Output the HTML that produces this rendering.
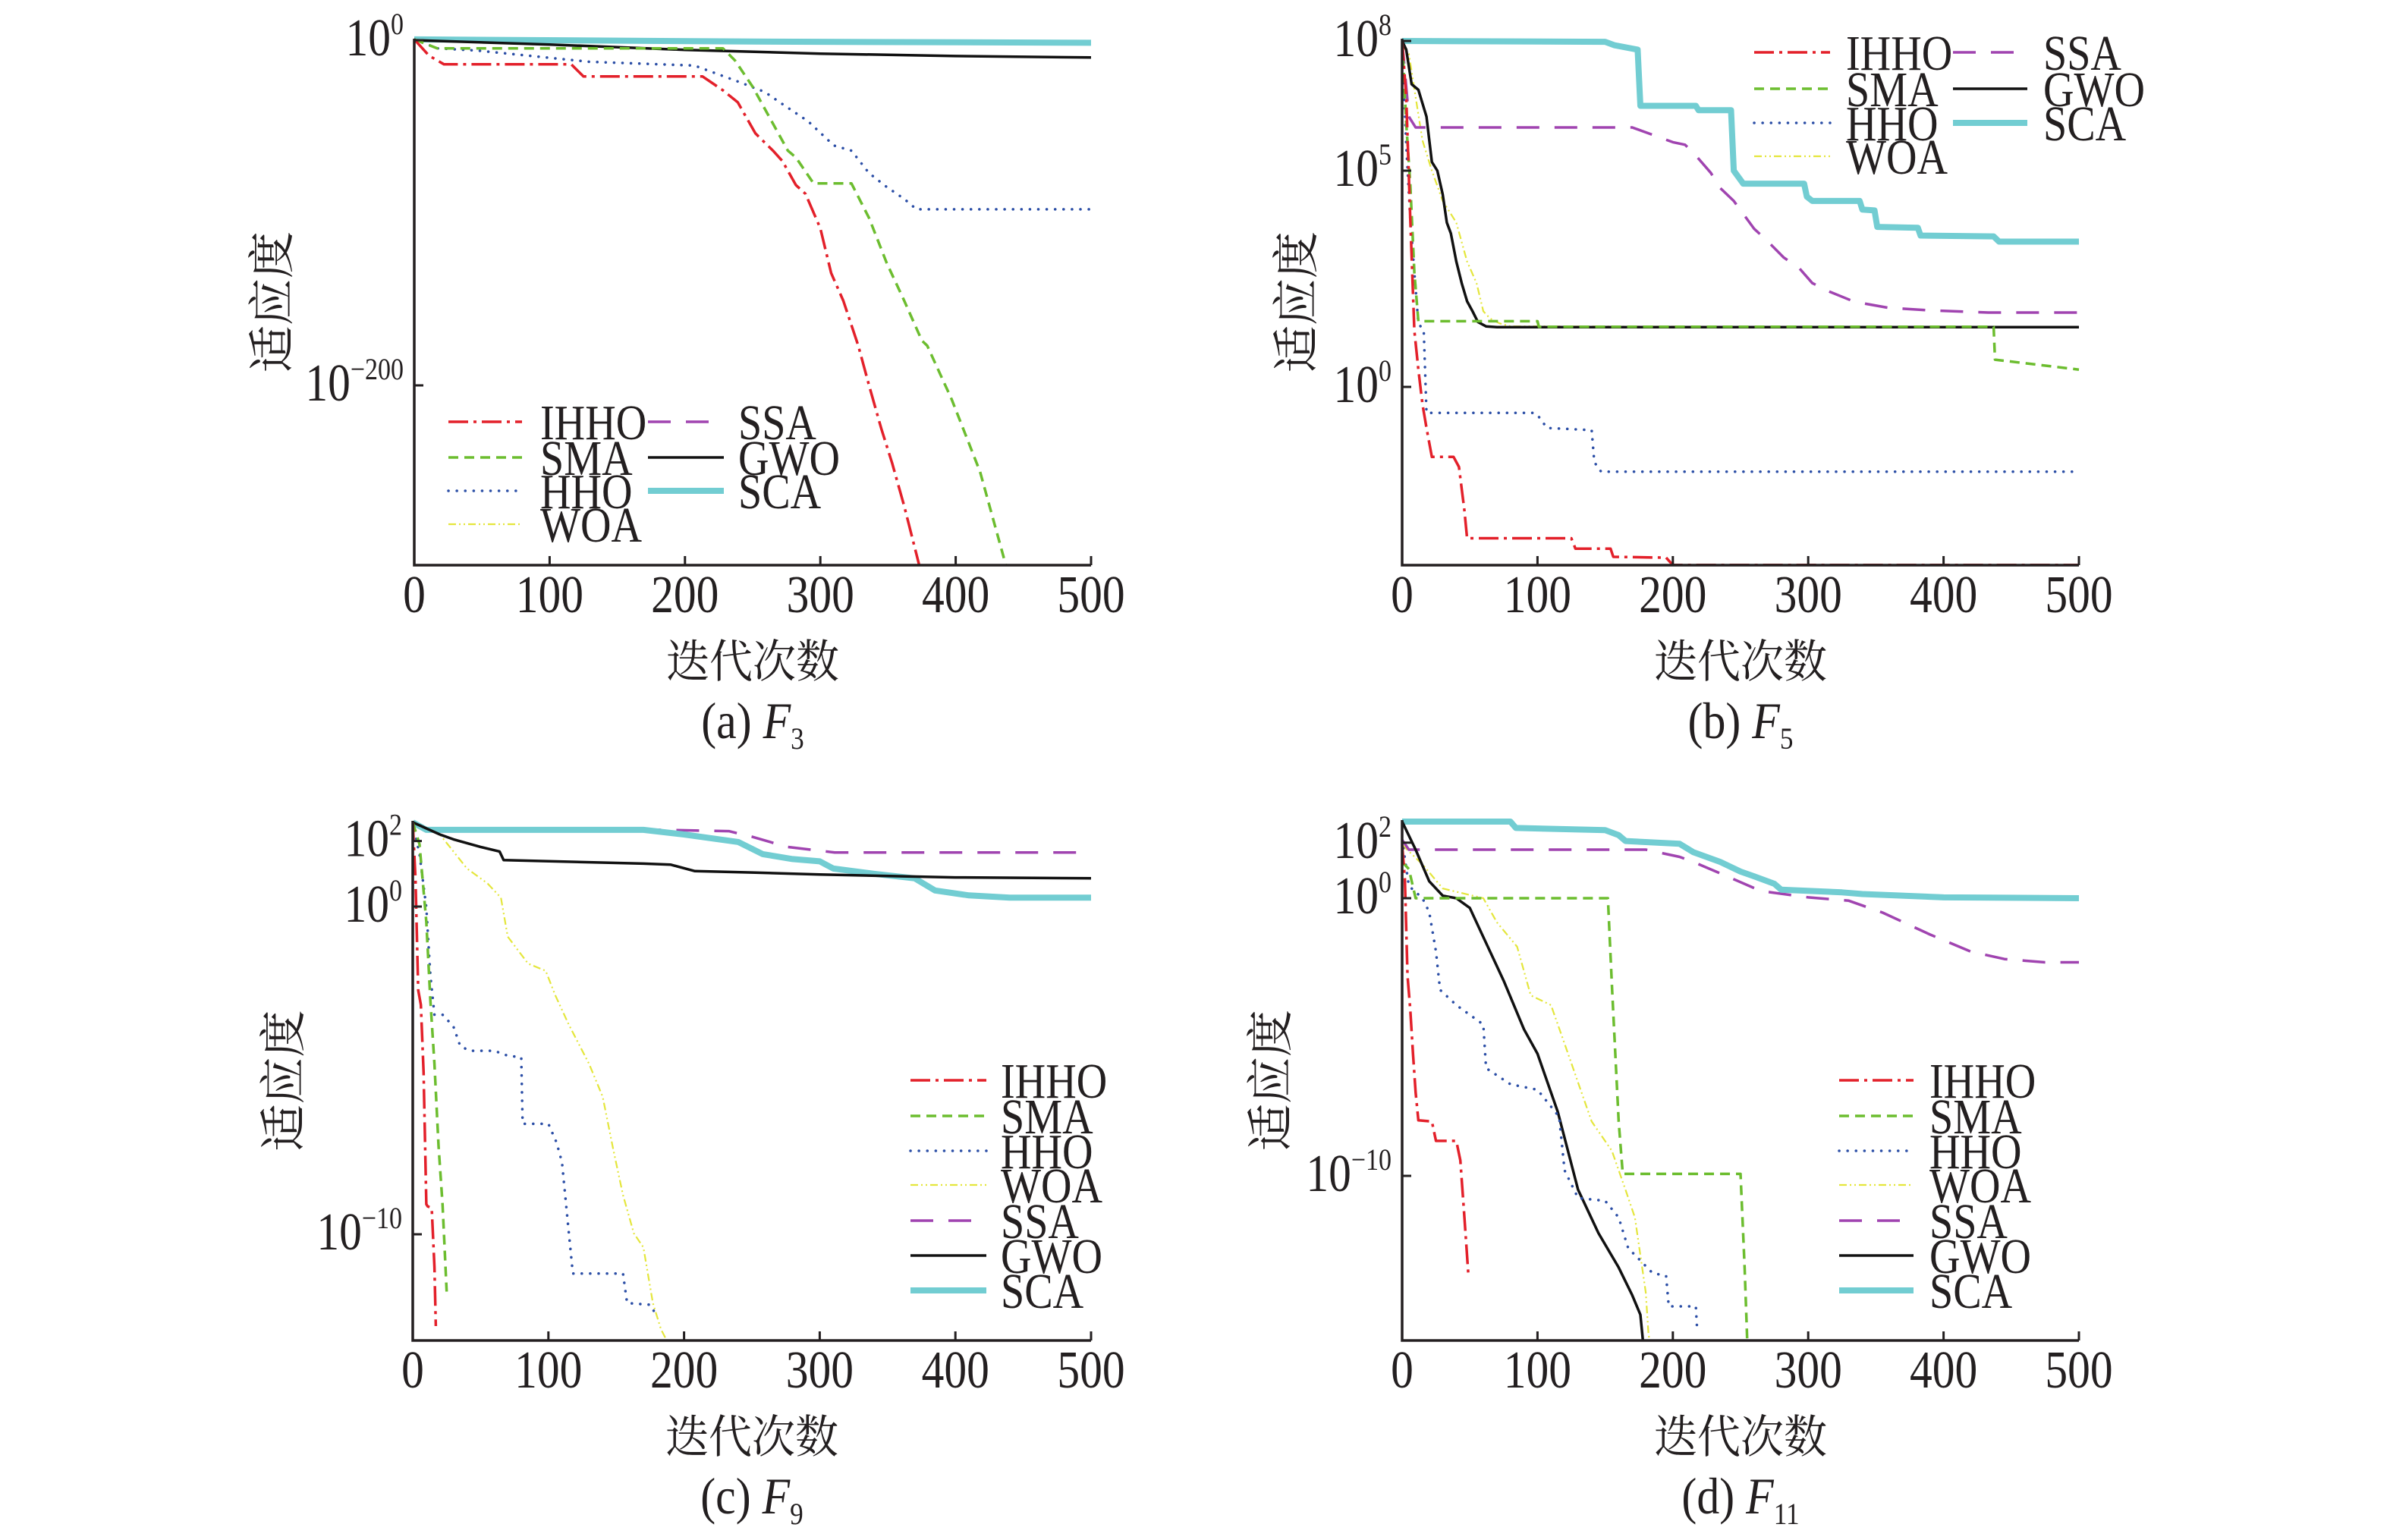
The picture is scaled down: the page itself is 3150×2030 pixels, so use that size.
<!DOCTYPE html>
<html><head><meta charset="utf-8">
<style>
html,body{margin:0;padding:0;background:#fff;overflow:hidden;}
svg{display:block;}
text{font-family:"Liberation Serif","Noto Serif CJK SC",serif;fill:#231f20;}
.cjk{font-family:"Liberation Serif","Noto Serif CJK SC","Noto Sans CJK SC",serif;}
</style></head>
<body>
<svg id="fig" width="3150" height="2030" viewBox="0 0 3150 2030" xmlns="http://www.w3.org/2000/svg">
<rect width="3150" height="2030" fill="#fff"/>
</svg>
<script>
// ---------- data (iteration, log10 fitness) ----------
const xTicks = [0,100,200,300,400,500];
const seriesNames = ["IHHO","SMA","HHO","WOA","SSA","GWO","SCA"];

const aTickVals = [0,-200];
const aTickSup = ["0","\u2212200"];
const a_IHHO = [[0,0.5],[11,-9],[22,-14],[116,-14],[125,-21],[213,-21],[228,-29],[239,-36],[252,-54],[265,-64],[272,-70],[282,-84],[289,-89],[300,-109],[308,-135],[317,-151],[328,-177],[336,-200],[345,-225],[353,-245],[362,-270],[373,-304],[376,-320]];
const a_SMA = [[0,0.5],[17,-4.7],[228,-4.7],[237,-11.8],[250,-27],[276,-64],[282,-68],[295,-83],[323,-83],[336,-103],[349,-129],[362,-151],[375,-174],[379,-177],[397,-208],[418,-250],[437,-304],[440,-320]];
const a_HHO = [[0,0.5],[17,-4.7],[47,-6],[129,-12.5],[207,-14.7],[241,-24.5],[259,-30],[272,-37],[291,-47],[310,-61],[323,-64],[336,-77],[349,-85],[362,-92],[371,-98],[500,-98]];
const a_WOA = [[0,0.5],[500,-1.5]];
const a_SSA = [[0,0.5],[500,-1]];
const a_GWO = [[0,0],[100,-2.5],[200,-5.6],[300,-7.8],[400,-9.2],[500,-10]];
const a_SCA = [[0,0.5],[250,-0.8],[500,-1.5]];

const bTickVals = [8,5,0];
const bTickSup = ["8","5","0"];
const b_IHHO = [[0,8],[3,6.7],[6,3.9],[9,1.3],[12,0.4],[15,-0.4],[18,-0.95],[22,-1.62],[38,-1.62],[42,-1.85],[46,-2.86],[48,-3.5],[125,-3.5],[128,-3.74],[154,-3.74],[156,-3.93],[195,-3.95],[200,-4.12],[500,-4.12]];
const b_SMA = [[0,8],[3,6.1],[6,4.7],[9,2.65],[12,1.52],[100,1.52],[101,1.39],[437,1.39],[438,0.63],[500,0.4]];
const b_HHO = [[0,8],[3,5.6],[6,3.9],[9,2.65],[12,1.47],[16,1.3],[18,-0.6],[97,-0.6],[100,-0.65],[107,-0.95],[140,-1.0],[142,-1.74],[147,-1.96],[500,-1.96]];
const b_WOA = [[0,7.9],[5,7.7],[10,6.7],[15,5.7],[22,5.0],[30,4.3],[40,3.8],[48,2.9],[55,2.4],[60,1.75],[65,1.58],[72,1.47],[80,1.4],[500,1.38]];
const b_SSA = [[0,8],[5,6.25],[10,6.0],[170,6.0],[200,5.66],[209,5.6],[217,5.35],[228,4.95],[235,4.6],[245,4.3],[252,4.0],[260,3.66],[269,3.4],[282,2.99],[293,2.76],[303,2.4],[316,2.2],[334,1.97],[359,1.83],[390,1.77],[433,1.72],[500,1.72]];
const b_GWO = [[0,8],[3,7.8],[7,7.0],[12,6.87],[18,6.25],[22,5.2],[26,5.0],[30,4.45],[33,3.8],[36,3.55],[40,2.9],[44,2.4],[48,1.98],[52,1.75],[56,1.5],[62,1.4],[70,1.38],[500,1.38]];
const b_SCA = [[0,8],[150,7.98],[157,7.9],[174,7.8],[176,6.5],[217,6.5],[219,6.4],[243,6.4],[245,5.0],[252,4.7],[297,4.7],[299,4.4],[303,4.3],[338,4.3],[340,4.1],[349,4.08],[351,3.7],[381,3.68],[383,3.5],[437,3.48],[441,3.36],[500,3.36]];

const cTickVals = [2,0,-10];
const cTickSup = ["2","0","\u221210"];
const c_IHHO = [[0,2.57],[2,0.86],[4,-2.55],[6,-3.0],[8,-5.07],[10,-9.08],[11,-9.15],[14,-9.2],[16,-11],[17,-12.8]];
const c_SMA = [[0,2.57],[5,1.9],[10,-0.47],[13,-2.85],[16,-4.8],[19,-7.3],[22,-9.1],[25,-11.75]];
const c_HHO = [[0,2.57],[5,1.6],[10,-0.03],[13,-2.1],[16,-3.3],[22,-3.3],[30,-3.66],[35,-4.26],[42,-4.4],[60,-4.4],[70,-4.55],[80,-4.6],[81,-6.63],[100,-6.63],[106,-7.2],[110,-7.8],[114,-9.5],[118,-11.2],[155,-11.2],[158,-12.1],[175,-12.15],[180,-12.5]];
const c_WOA = [[0,2.57],[20,2.2],[40,1.16],[55,0.71],[65,0.27],[70,-0.92],[85,-1.74],[98,-1.96],[105,-2.7],[115,-3.6],[130,-4.8],[140,-5.8],[148,-7.45],[155,-8.8],[163,-9.97],[170,-10.4],[177,-12.1],[183,-12.9],[188,-13.3]];
const c_SSA = [[0,2.57],[10,2.34],[182,2.34],[233,2.3],[251,2.12],[276,1.82],[311,1.65],[500,1.65]];
const c_GWO = [[0,2.57],[20,2.2],[30,2.05],[50,1.82],[64,1.68],[67,1.42],[170,1.31],[190,1.28],[208,1.08],[250,1.04],[300,0.98],[400,0.89],[500,0.86]];
const c_SCA = [[0,2.57],[10,2.34],[170,2.34],[200,2.2],[240,1.97],[258,1.6],[280,1.45],[300,1.38],[310,1.16],[340,1.0],[370,0.86],[385,0.49],[410,0.34],[440,0.27],[500,0.27]];

const dTickVals = [2,0,-10];
const dTickSup = ["2","0","\u221210"];
const d_IHHO = [[0,1.92],[2,0.7],[4,-2.8],[6,-4.0],[8,-5.6],[10,-7.0],[12,-8.0],[22,-8.04],[25,-8.74],[40,-8.74],[43,-9.44],[46,-11.5],[49,-13.6]];
const d_SMA = [[0,1.31],[5,1.05],[10,0],[152,0],[155,-3.15],[160,-8.04],[163,-9.93],[250,-9.93],[253,-13.3],[255,-16]];
const d_HHO = [[0,2.1],[5,0.44],[15,0],[20,-0.5],[25,-1.92],[28,-3.3],[40,-3.85],[60,-4.55],[62,-6.12],[80,-6.7],[100,-6.9],[116,-7.87],[120,-9.8],[130,-10.8],[150,-10.9],[160,-11.5],[167,-12.6],[185,-13.5],[195,-13.6],[197,-14.7],[217,-14.7],[218,-15.6]];
const d_WOA = [[0,1.92],[15,1.22],[30,0.35],[60,0],[70,-0.87],[85,-1.75],[95,-3.5],[110,-3.85],[120,-5.24],[130,-6.64],[140,-8.04],[155,-9.1],[165,-10.5],[172,-11.5],[180,-14.2],[182,-15.7],[183,-16]];
const d_SSA = [[0,2.1],[5,1.75],[180,1.75],[205,1.49],[215,1.31],[240,0.79],[265,0.26],[300,0.03],[330,-0.09],[355,-0.52],[390,-1.31],[420,-1.92],[445,-2.19],[475,-2.31],[500,-2.31]];
const d_GWO = [[0,2.76],[10,1.75],[20,0.61],[30,0.09],[40,0],[50,-0.35],[60,-1.4],[75,-2.97],[90,-4.72],[100,-5.6],[115,-7.7],[130,-10.5],[145,-12.06],[160,-13.3],[170,-14.3],[176,-15.0],[178,-16]];
const d_SCA = [[0,2.76],[80,2.76],[84,2.53],[150,2.45],[160,2.27],[165,2.06],[205,1.96],[215,1.66],[235,1.31],[250,0.96],[260,0.79],[275,0.52],[280,0.31],[325,0.21],[340,0.15],[400,0.03],[500,0]];

// ---------- rendering ----------
const NS = "http://www.w3.org/2000/svg";
const svg = document.getElementById("fig");
function mk(tag, attrs, parent){
  const e = document.createElementNS(NS, tag);
  for (const k in attrs) e.setAttribute(k, attrs[k]);
  (parent||svg).appendChild(e);
  return e;
}
const styles = {
  IHHO:{c:"#e3202a",w:3.5,d:"26 7 4 7",cap:"butt"},
  SMA:{c:"#6cbd2f",w:3.5,d:"13 8",cap:"butt"},
  HHO:{c:"#2b4ea6",w:3.5,d:"0.1 11",cap:"round"},
  WOA:{c:"#e4e63c",w:2.2,d:"10 4 2 4 2 4",cap:"butt"},
  SSA:{c:"#a044b0",w:3.5,d:"30 20",cap:"butt"},
  GWO:{c:"#111",w:3.5,d:"",cap:"butt"},
  SCA:{c:"#72cdd2",w:8,d:"",cap:"butt"}
};
const drawOrder = ["WOA","SSA","SCA","GWO","HHO","SMA","IHHO"];

const rowsTop = [556,603,647,691];
const rowsB = [69,117,162,206];
const rowsBot = [1424,1471,1517,1562,1609,1655,1701];

const panels = [
  {id:"a",cap:"(a) ",sub:"3",L:546,R:1438,T:51,B:745,v1:0,p1:53,v2:-200,p2:508,ticks:aTickVals,sup:aTickSup,ylx:358,
   data:{IHHO:a_IHHO,SMA:a_SMA,HHO:a_HHO,WOA:a_WOA,SSA:a_SSA,GWO:a_GWO,SCA:a_SCA},
   legend:{cols:[[591,688,712,["IHHO","SMA","HHO","WOA"]],[854,954,973,["SSA","GWO","SCA"]]],rows:rowsTop}},
  {id:"b",cap:"(b) ",sub:"5",L:1848,R:2740,T:51,B:745,v1:0,p1:510,v2:8,p2:54,ticks:bTickVals,sup:bTickSup,ylx:1708,
   data:{IHHO:b_IHHO,SMA:b_SMA,HHO:b_HHO,WOA:b_WOA,SSA:b_SSA,GWO:b_GWO,SCA:b_SCA},
   legend:{cols:[[2312,2412,2433,["IHHO","SMA","HHO","WOA"]],[2574,2672,2693,["SSA","GWO","SCA"]]],rows:rowsB}},
  {id:"c",cap:"(c) ",sub:"9",L:544,R:1438,T:1082,B:1767,v1:0,p1:1195,v2:-10,p2:1627,ticks:cTickVals,sup:cTickSup,ylx:373,
   data:{IHHO:c_IHHO,SMA:c_SMA,HHO:c_HHO,WOA:c_WOA,SSA:c_SSA,GWO:c_GWO,SCA:c_SCA},
   legend:{cols:[[1200,1300,1319,seriesNames]],rows:rowsBot}},
  {id:"d",cap:"(d) ",sub:"11",L:1848,R:2740,T:1081,B:1767,v1:0,p1:1184,v2:-10,p2:1550,ticks:dTickVals,sup:dTickSup,ylx:1674,
   data:{IHHO:d_IHHO,SMA:d_SMA,HHO:d_HHO,WOA:d_WOA,SSA:d_SSA,GWO:d_GWO,SCA:d_SCA},
   legend:{cols:[[2424,2522,2543,seriesNames]],rows:rowsBot}}
];

function txt(parent, x, y, s, size, sx, anchor, cls){
  const t = mk("text",{transform:`translate(${x},${y}) scale(${sx},1)`,"font-size":size,"text-anchor":anchor||"start"},parent);
  if (cls) t.setAttribute("class", cls);
  t.textContent = s;
  return t;
}

panels.forEach(P=>{
  const g = mk("g",{});
  
  
  const xs = v => P.L + (v/500)*(P.R-P.L);
  const ys = v => P.p1 + (v-P.v1)*(P.p2-P.p1)/(P.v2-P.v1);

  const cp = mk("clipPath",{id:"clip-"+P.id},g);
  mk("rect",{x:P.L,y:P.T-6,width:P.R-P.L+6,height:P.B-P.T+6},cp);

  const sg = mk("g",{"clip-path":`url(#clip-${P.id})`},g);
  
  
  drawOrder.forEach(n=>{
    const st = styles[n];
    const pts = P.data[n].map(p=>xs(p[0]).toFixed(1)+","+ys(p[1]).toFixed(1)).join(" ");
    const pl = mk("polyline",{points:pts,fill:"none",stroke:st.c,"stroke-width":st.w,"stroke-dasharray":st.d,"stroke-linecap":st.cap,"stroke-linejoin":"round"},sg);
    
    
  });

  const ax = mk("path",{d:`M${P.L},${P.T} L${P.L},${P.B} L${P.R},${P.B}`,fill:"none",stroke:"#231f20","stroke-width":3.5},g);
  
  

  xTicks.forEach(v=>{
    const x = xs(v);
    if (v>0) mk("line",{x1:x,y1:P.B,x2:x,y2:P.B-12,stroke:"#231f20","stroke-width":3},g);
    const t = txt(g, x, P.B+62, String(v), 70, 0.85, "middle");
    
    
  });
  P.ticks.forEach((v,i)=>{
    const y = ys(v);
    mk("line",{x1:P.L,y1:y,x2:P.L+12,y2:y,stroke:"#231f20","stroke-width":3},g);
    const t = mk("text",{transform:`translate(${P.L-14},${y+20}) scale(0.85,1)`,"font-size":70,"text-anchor":"end"},g);
    
    
    t.appendChild(document.createTextNode("10"));
    const sp = document.createElementNS(NS,"tspan");
    sp.setAttribute("dy","-28");
    sp.setAttribute("font-size","40");
    sp.textContent = P.sup[i];
    t.appendChild(sp);
  });

  const cx = (P.L+P.R)/2;
  const xt = txt(g, cx, P.B+148, "迭代次数", 60, 0.95, "middle", "cjk");
  
  
  const yt = mk("text",{transform:`translate(${P.ylx+22},${(P.T+P.B)/2}) rotate(-90)`,"font-size":62,"text-anchor":"middle","class":"cjk"},g);
  yt.textContent = "适应度";
  
  

  const ct = mk("text",{transform:`translate(${cx},${P.B+228}) scale(0.88,1)`,"font-size":68,"text-anchor":"middle"},g);
  
  
  ct.appendChild(document.createTextNode(P.cap));
  const fi = document.createElementNS(NS,"tspan");
  fi.setAttribute("font-style","italic");
  fi.textContent = "F";
  ct.appendChild(fi);
  const fs = document.createElementNS(NS,"tspan");
  fs.setAttribute("font-size","40");
  fs.setAttribute("dy","14");
  fs.textContent = P.sub;
  ct.appendChild(fs);

  const lg = mk("g",{},g);
  
  
  P.legend.cols.forEach(col=>{
    col[3].forEach((n,r)=>{
      const y = P.legend.rows[r];
      const st = styles[n];
      const eg = mk("g",{},lg);
      
      
      mk("line",{x1:col[0],y1:y,x2:col[1],y2:y,stroke:st.c,"stroke-width":st.w,"stroke-dasharray":st.d,"stroke-linecap":st.cap},eg);
      txt(eg, col[2], y+23, n, 66, 0.85, "start");
    });
  });
});
</script>
</body></html>
